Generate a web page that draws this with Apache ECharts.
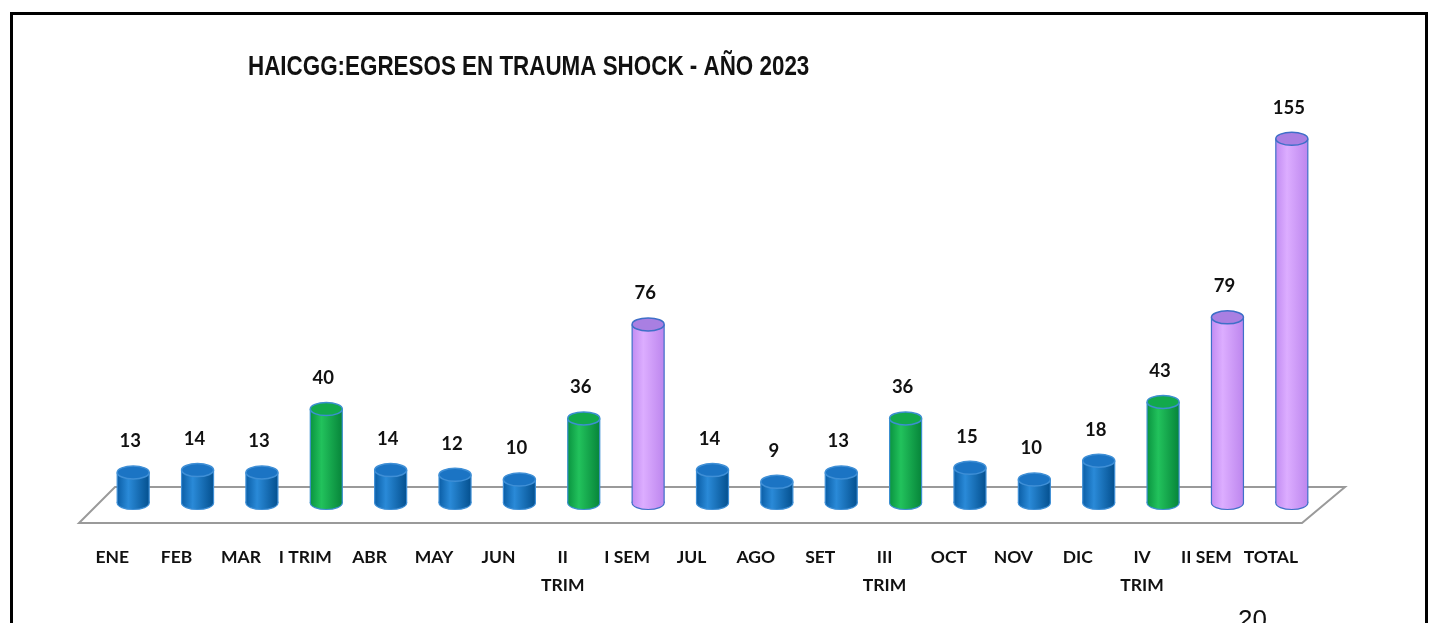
<!DOCTYPE html>
<html>
<head>
<meta charset="utf-8">
<script src="https://cdn.jsdelivr.net/npm/echarts@6/dist/echarts.min.js"></script>
<style>
  html, body { margin: 0; padding: 0; background: #fff; }
  #chart { width: 1435px; height: 623px; }
</style>
</head>
<body>
<div id="chart"></div>
<script>
// datos del gráfico
const categories = ['ENE', 'FEB', 'MAR', 'I TRIM', 'ABR', 'MAY', 'JUN', 'II\nTRIM', 'I SEM',
  'JUL', 'AGO', 'SET', 'III\nTRIM', 'OCT', 'NOV', 'DIC', 'IV\nTRIM', 'II SEM', 'TOTAL'];
const values = [13, 14, 13, 40, 14, 12, 10, 36, 76, 14, 9, 13, 36, 15, 10, 18, 43, 79, 155];
// tipo de periodo: m = mes, t = trimestre, s = semestre/total
const kinds = ['m', 'm', 'm', 't', 'm', 'm', 'm', 't', 's', 'm', 'm', 'm', 't', 'm', 'm', 'm', 't', 's', 's'];

// colores por tipo de cilindro
const palette = {
  m: { body: ['#0b5ea6', '#2a8ad8', '#04508f'], top: '#1b74c4', line: '#3f8fd6' },
  t: { body: ['#0a9440', '#22c25c', '#07853a'], top: '#12a94c', line: '#3c8fd0' },
  s: { body: ['#c28cf2', '#dcadff', '#bd86ee'], top: '#a97fe2', line: '#3f6fc8' }
};

const grad = (c) => new echarts.graphic.LinearGradient(0, 0, 1, 0, [
  { offset: 0, color: c[0] },
  { offset: 0.35, color: c[1] },
  { offset: 1, color: c[2] }
]);

const chart = echarts.init(document.getElementById('chart'));

// cilindro 3D
const renderCylinder = (params, api) => {
  const idx = api.value(0);
  const top = api.coord([idx, api.value(1)]);
  const base = api.coord([idx, 0]);
  const rx = 16, ry = 6.5;
  const p = palette[kinds[params.dataIndex]];
  const cx = top[0];
  return {
    type: 'group',
    children: [
      { type: 'ellipse', shape: { cx: cx, cy: base[1], rx: rx, ry: ry },
        style: { fill: grad(p.body), stroke: p.line, lineWidth: 1.2 } },
      { type: 'rect', shape: { x: cx - rx, y: top[1], width: rx * 2, height: base[1] - top[1] },
        style: { fill: grad(p.body) } },
      { type: 'line', shape: { x1: cx - rx, y1: top[1], x2: cx - rx, y2: base[1] },
        style: { stroke: p.line, lineWidth: 1.2 } },
      { type: 'line', shape: { x1: cx + rx, y1: top[1], x2: cx + rx, y2: base[1] },
        style: { stroke: p.line, lineWidth: 1.2 } },
      { type: 'ellipse', shape: { cx: cx, cy: top[1], rx: rx, ry: ry },
        style: { fill: p.top, stroke: p.line, lineWidth: 1.5 } },
      { type: 'text', x: cx - 3, y: top[1] - 31,
        style: { text: String(api.value(1)), fill: '#111', font: 'bold 18.5px Lato',
          align: 'center', verticalAlign: 'middle' } }
    ]
  };
};

// piso del gráfico en perspectiva
const renderFloor = (params) => {
  const cs = params.coordSys;
  const y0 = cs.y + cs.height;
  const l = cs.x, r = cs.x + cs.width;
  return {
    type: 'polygon',
    silent: true,
    shape: { points: [[l + 14, y0 - 16], [r + 21, y0 - 16], [r - 22, y0 + 20], [l - 22, y0 + 20]] },
    style: { fill: '#fff', stroke: '#9a9a9a', lineWidth: 2 }
  };
};

const option = {
  animation: false,
  grid: { left: 101, right: 111, top: 127, bottom: 120 },
  xAxis: {
    type: 'category',
    data: categories,
    axisLine: { show: false },
    axisTick: { show: false },
    axisLabel: {
      interval: 0,
      margin: 40,
      padding: [0, 42, 0, 0],
      lineHeight: 28,
      fontFamily: 'Lato',
      fontWeight: 'bold',
      fontSize: 17.5,
      color: '#111'
    }
  },
  yAxis: { type: 'value', min: 0, max: 160, show: false },
  graphic: [
    // título (condensado como Arial Narrow)
    { type: 'text', x: 248, y: 67, scaleX: 0.8,
      style: { text: 'HAICGG:EGRESOS EN TRAUMA SHOCK - AÑO 2023',
        font: 'bold 28px "Liberation Sans"', fill: '#111', verticalAlign: 'middle' } },
    { type: 'rect', shape: { x: 11.5, y: 13.5, width: 1415, height: 640 },
      style: { fill: 'none', stroke: '#000', lineWidth: 3 }, z: 100 },
    { type: 'text', left: 1238, top: 608,
      style: { text: '20', font: '26px "Liberation Sans"', fill: '#111' } }
  ],
  series: [
    { type: 'custom', renderItem: renderFloor, data: [0], z: 1, silent: true },
    { type: 'custom', renderItem: renderCylinder, data: values.map((v, i) => [i, v]), z: 2 }
  ]
};

chart.setOption(option);
</script>
</body>
</html>
